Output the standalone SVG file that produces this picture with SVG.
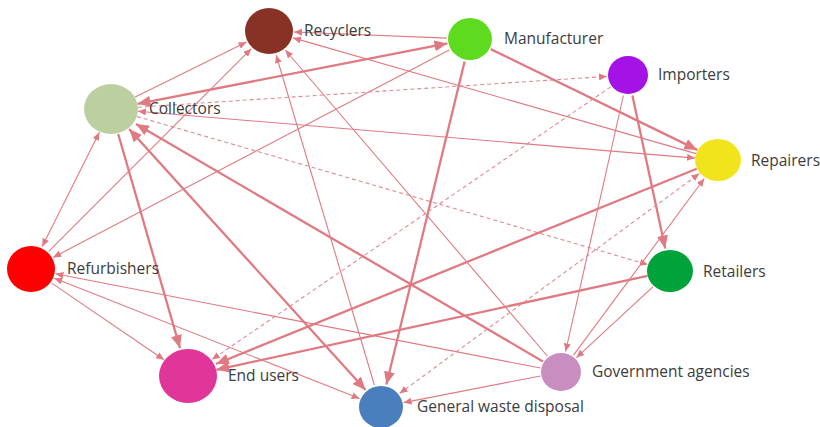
<svg xmlns="http://www.w3.org/2000/svg" width="820" height="427" viewBox="0 0 820 427">
<style>
.e{fill:none;stroke:#E07A82;stroke-width:1.1}
.t{fill:none;stroke:#E07A82;stroke-width:2.3}
.d{fill:none;stroke:#E08A92;stroke-width:1.1;stroke-dasharray:4 3}
.lbl{font-family:"Open Sans","Noto Sans",sans-serif;font-size:15.5px;fill:#3c3c3c}
</style>
<defs>
<marker id="a" markerUnits="userSpaceOnUse" markerWidth="9" markerHeight="7" refX="8" refY="3.5" orient="auto-start-reverse"><path d="M0,0 L8,3.5 L0,7 z" fill="#E07A82"/></marker>
<marker id="b" markerUnits="userSpaceOnUse" markerWidth="14" markerHeight="11" refX="13" refY="5.5" orient="auto-start-reverse"><path d="M0,0 L13,5.5 L0,11 z" fill="#E07A82"/></marker>
</defs>
<g id="connectors">
<line class="e" x1="135.2" y1="97" x2="246.6" y2="42.1" marker-end="url(#a)"/>
<line class="e" x1="48.7" y1="251.3" x2="251.3" y2="48.7" marker-end="url(#a)"/>
<line class="e" x1="447" y1="38.1" x2="294" y2="32" marker-end="url(#a)"/>
<line class="e" x1="695.9" y1="153.6" x2="293" y2="37.9" marker-end="url(#a)"/>
<line class="e" x1="374.4" y1="385" x2="276.1" y2="55" marker-end="url(#a)"/>
<line class="e" x1="547.3" y1="356" x2="285.3" y2="50" marker-end="url(#a)"/>
<line class="t" x1="137.5" y1="103.8" x2="447.4" y2="43.4" marker-start="url(#b)" marker-end="url(#b)"/>
<line class="e" x1="449.6" y1="49.7" x2="53.1" y2="257.4" marker-end="url(#a)"/>
<line class="d" x1="137.9" y1="107.2" x2="607" y2="76.4" marker-end="url(#a)"/>
<line class="e" x1="137.9" y1="111.3" x2="695.1" y2="158.1" marker-start="url(#a)" marker-end="url(#a)"/>
<line class="d" x1="136.9" y1="116.5" x2="647.9" y2="264.6" marker-end="url(#a)"/>
<line class="t" x1="129.1" y1="129" x2="365.6" y2="390" marker-start="url(#b)" marker-end="url(#b)"/>
<line class="t" x1="542.9" y1="361.4" x2="136" y2="124" marker-end="url(#b)"/>
<line class="t" x1="118.2" y1="134" x2="180" y2="348.1" marker-end="url(#b)"/>
<line class="e" x1="99.4" y1="132.3" x2="42.2" y2="246.6" marker-start="url(#a)" marker-end="url(#a)"/>
<line class="t" x1="490.7" y1="49.1" x2="697.3" y2="149.9" marker-end="url(#b)"/>
<line class="t" x1="464.6" y1="61.4" x2="386.4" y2="384.6" marker-end="url(#b)"/>
<line class="t" x1="632.4" y1="95.5" x2="665.2" y2="248.5" marker-end="url(#b)"/>
<line class="e" x1="623.4" y1="95.5" x2="565.6" y2="351.5" marker-end="url(#a)"/>
<line class="d" x1="610.7" y1="86.9" x2="211.9" y2="359.6" marker-end="url(#a)"/>
<line class="t" x1="696.7" y1="168.7" x2="216" y2="364" marker-end="url(#b)"/>
<line class="t" x1="647.5" y1="275.9" x2="216.3" y2="369.8" marker-end="url(#b)"/>
<line class="d" x1="399.6" y1="393.4" x2="699.4" y2="173.6" marker-start="url(#a)" marker-end="url(#a)"/>
<line class="e" x1="573.5" y1="355.1" x2="704.3" y2="178.5" marker-end="url(#a)"/>
<line class="e" x1="653.1" y1="286.6" x2="576.4" y2="357.7" marker-end="url(#a)"/>
<line class="e" x1="540.4" y1="368" x2="55.5" y2="273.8" marker-end="url(#a)"/>
<line class="e" x1="359.6" y1="398.6" x2="54.3" y2="278.2" marker-start="url(#a)" marker-end="url(#a)"/>
<line class="e" x1="51.7" y1="283.1" x2="164" y2="359.7" marker-end="url(#a)"/>
<line class="e" x1="540.4" y1="376" x2="403.6" y2="402.6" marker-end="url(#a)"/>
</g>
<g id="node-recyclers"><ellipse cx="269" cy="31" rx="24" ry="23" fill="#873224"/><text class="lbl" x="304" y="36">Recyclers</text></g>
<g id="node-manufacturer"><ellipse cx="470" cy="39" rx="22" ry="21" fill="#5EDB1F"/><text class="lbl" x="504" y="44">Manufacturer</text></g>
<g id="node-importers"><ellipse cx="628" cy="75" rx="20" ry="19" fill="#A412E6"/><text class="lbl" x="658" y="80">Importers</text></g>
<g id="node-collectors"><ellipse cx="111" cy="109" rx="27" ry="25" fill="#BCCFA0"/><text class="lbl" x="149" y="114">Collectors</text></g>
<g id="node-repairers"><ellipse cx="718" cy="160" rx="23" ry="21" fill="#F2E41C"/><text class="lbl" x="751" y="166">Repairers</text></g>
<g id="node-refurbishers"><ellipse cx="31" cy="269" rx="24" ry="23" fill="#FE0000"/><text class="lbl" x="67" y="274">Refurbishers</text></g>
<g id="node-retailers"><ellipse cx="670" cy="271" rx="23" ry="21" fill="#00A23A"/><text class="lbl" x="703" y="277">Retailers</text></g>
<g id="node-end-users"><ellipse cx="188" cy="376" rx="29" ry="27" fill="#E0369A"/><text class="lbl" x="228" y="381">End users</text></g>
<g id="node-government-agencies"><ellipse cx="561" cy="372" rx="20" ry="19" fill="#C88EC0"/><text class="lbl" x="592" y="377">Government agencies</text></g>
<g id="node-general-waste-disposal"><ellipse cx="381" cy="407" rx="22" ry="21" fill="#4A7FBE"/><text class="lbl" x="417" y="412">General waste disposal</text></g>
</svg>
